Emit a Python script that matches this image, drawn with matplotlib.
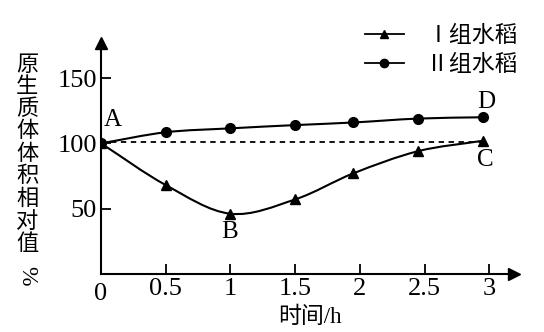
import matplotlib
matplotlib.use("Agg")
import matplotlib.pyplot as plt
import numpy as np
from matplotlib.path import Path
from matplotlib.patches import PathPatch
from matplotlib.lines import Line2D

plt.rcParams['font.family'] = ['Liberation Serif', 'Noto Sans CJK SC', 'DejaVu Sans']

# 时间 (h) 和原生质体体积相对值 (%)
t = [0, 0.5, 1, 1.5, 1.95, 2.45, 2.95]
group1 = [100, 68, 46, 57, 77, 94, 102]     # Ⅰ组水稻
group2 = [100, 108.5, 111.5, 114, 116, 119, 120]  # Ⅱ组水稻
xticks = [0.5, 1, 1.5, 2, 2.5, 3]
xticklabels = ['0.5', '1', '1.5', '2', '2.5', '3']
yticks = [50, 100, 150]
point_labels = {'A': (0.09, 118), 'B': (0.99, 32), 'C': (2.97, 87), 'D': (2.98, 132)}


def smooth_path(x, y):
    # Catmull-Rom through the points, written as cubic Bezier segments
    x = np.asarray(x, float)
    y = np.asarray(y, float)
    pts = np.column_stack([x, y])
    ext = np.vstack([pts[0] - (pts[1] - pts[0]), pts, pts[-1] + (pts[-1] - pts[-2])])
    verts = [pts[0]]
    codes = [Path.MOVETO]
    for i in range(1, len(ext) - 2):
        p0, p1, p2, p3 = ext[i - 1], ext[i], ext[i + 1], ext[i + 2]
        c1 = p1 + (p2 - p0) / 6
        c2 = p2 - (p3 - p1) / 6
        verts += [c1, c2, p2]
        codes += [Path.CURVE4] * 3
    return Path(verts, codes)


fig = plt.figure(figsize=(5.44, 3.32), dpi=100)
ax = fig.add_axes([0.1857, 0.1756, 0.759, 0.695])
ax.set_xlim(0, 3.19)
ax.set_ylim(0, 177)

ax.plot([0, 2.95], [101, 101], color='black', lw=1.3, ls=(0, (3, 2.5)))

for ys, mk in [(group1, '^'), (group2, 'o')]:
    ax.add_patch(PathPatch(smooth_path(t, ys), fill=False, lw=1.5, color='black'))
    ax.plot(t, ys, ls='none', marker=mk, ms=7, color='black')

for k, (px, py) in point_labels.items():
    ax.text(px, py, k, fontsize=18, ha='center', va='center')

for s in ['top', 'right']:
    ax.spines[s].set_visible(False)
for s in ['left', 'bottom']:
    ax.spines[s].set_linewidth(1.5)
ax.plot(0, 1, marker='^', ms=9, color='black', transform=ax.transAxes, clip_on=False)
ax.plot(1, 0, marker='>', ms=9, color='black', transform=ax.transAxes, clip_on=False)

ax.set_xticks(xticks)
ax.set_xticklabels(xticklabels)
ax.set_yticks(yticks)
ax.tick_params(direction='in', length=7, width=1.3, labelsize=19, pad=3)
ax.text(0, -7, '0', fontsize=19, ha='center', va='top')

ax.set_xlabel('时间/h', fontsize=16.5, labelpad=0)
ax.xaxis.set_label_coords(0.505, -0.19)
ax.xaxis.label.set_va('center')

ylabel = '原生质体体积相对值'
fig.text(0.05, 0.83, '\n'.join(ylabel), fontsize=16, ha='center', va='top',
         linespacing=1.13)
fig.text(0.05, 0.17, '%', fontsize=17, rotation=-90, ha='center', va='center')

handles = [Line2D([], [], color='black', lw=1.3, marker='^', ms=6),
           Line2D([], [], color='black', lw=1.3, marker='o', ms=6)]
fig.legend(handles, ['Ⅰ组水稻', 'Ⅱ组水稻'], loc='upper right',
           bbox_to_anchor=(0.99, 0.985), frameon=False, fontsize=16.5,
           handlelength=1.7, handletextpad=1.0, labelspacing=0.35)

fig.savefig('out.png', dpi=100)
